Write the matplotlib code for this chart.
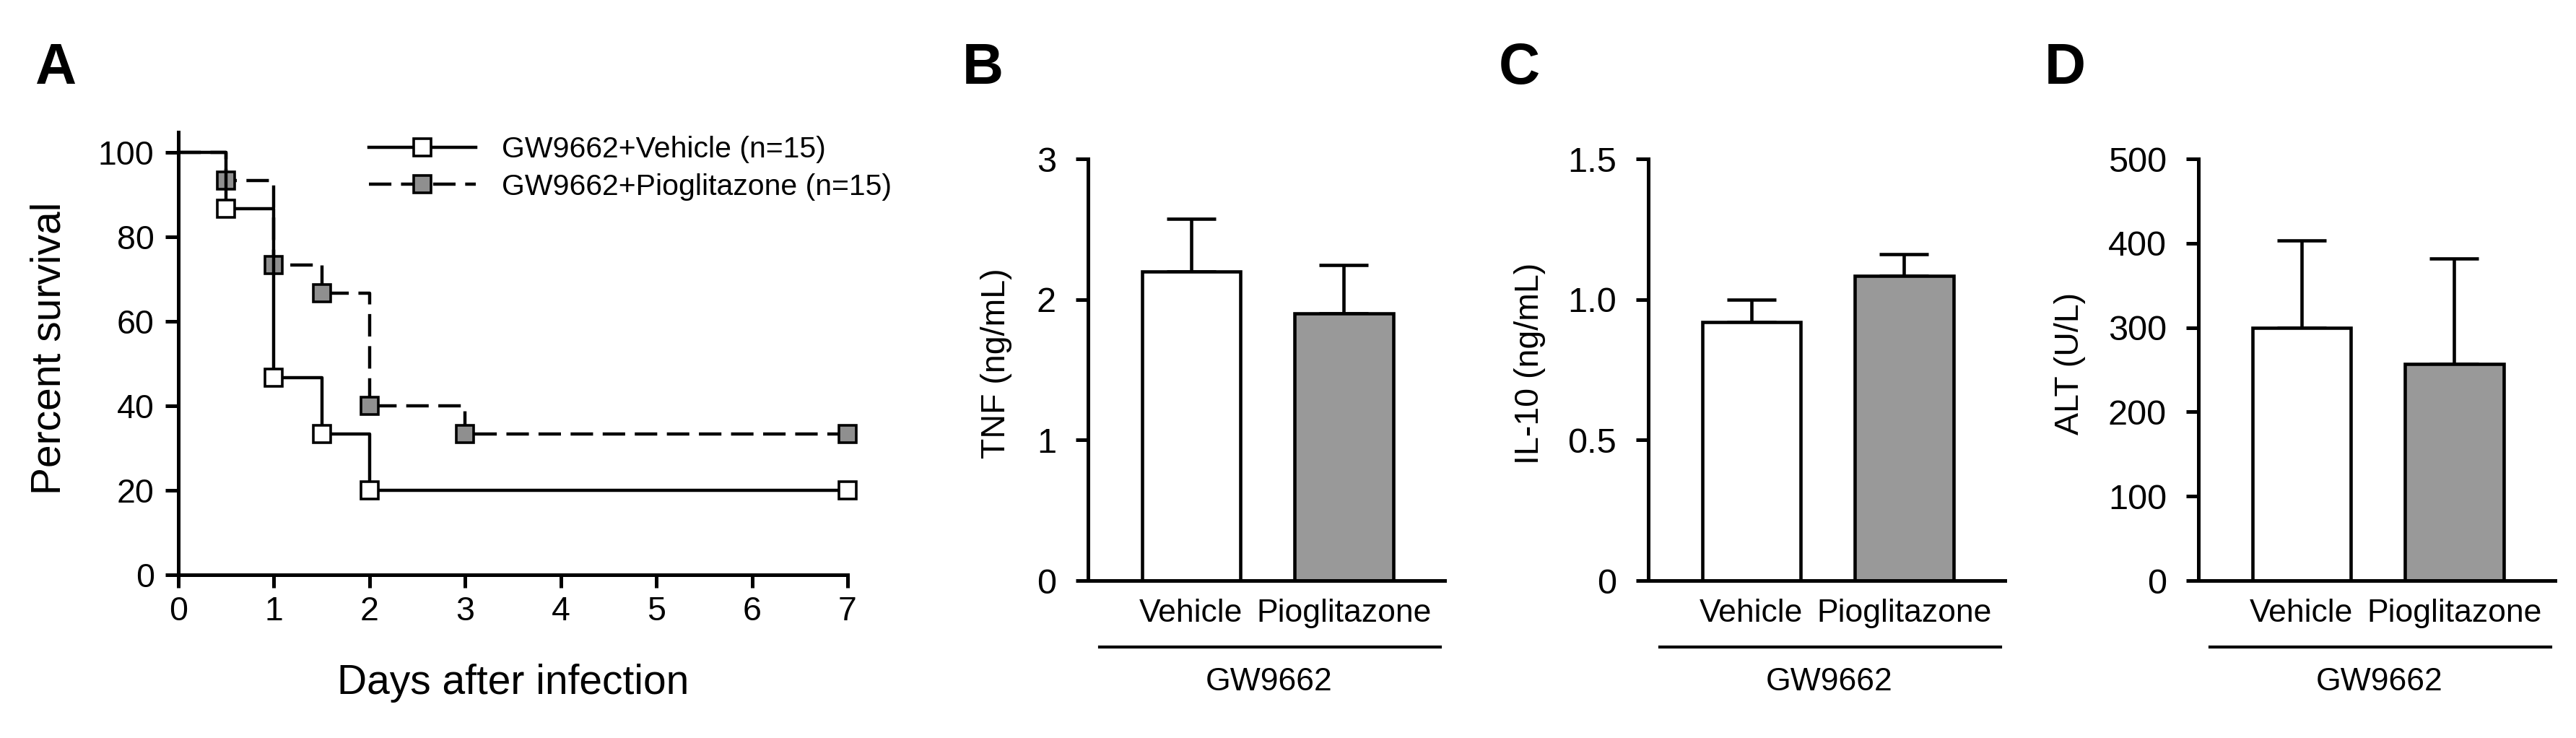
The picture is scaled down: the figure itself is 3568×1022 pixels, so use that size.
import matplotlib
matplotlib.use("Agg")
import matplotlib.pyplot as plt
import matplotlib.transforms as mtransforms

plt.rcParams['font.family'] = ['Liberation Sans', 'DejaVu Sans']

# Panel A: Kaplan-Meier survival
days_vehicle = [0, 0.5, 1, 1.5, 2, 7]
surv_vehicle = [100, 86.7, 46.7, 33.3, 20, 20]
days_pio = [0, 0.5, 1, 1.5, 2, 3, 7]
surv_pio = [100, 93.3, 73.3, 66.7, 40, 33.3, 33.3]
label_vehicle = "GW9662+Vehicle (n=15)"
label_pio = "GW9662+Pioglitazone (n=15)"

# Panels B-D: bar charts (mean + SEM)
groups = ["Vehicle", "Pioglitazone"]
tnf = [2.20, 1.90]
tnf_err = [0.375, 0.345]
il10 = [0.92, 1.085]
il10_err = [0.08, 0.077]
alt = [300, 257]
alt_err = [103, 125]

W, H = 3568, 1022
fig = plt.figure(figsize=(W / 100, H / 100), dpi=100)


def px_axes(left, right, top, bottom):
    return fig.add_axes([left / W, 1 - bottom / H, (right - left) / W, (bottom - top) / H])


LW = 3.6
GRAY_BAR = "#999999"
GRAY_MK = "#8f8f8f"

# ---------- Panel A ----------
ax = px_axes(247, 1174, 183, 796)
ax.plot(days_vehicle, surv_vehicle, drawstyle="steps-post", color="black", lw=3.2,
        marker="s", markersize=17.5, markerfacecolor="white", markeredgecolor="black",
        markeredgewidth=2.6, markevery=list(range(1, len(days_vehicle))),
        clip_on=False, zorder=4, label=label_vehicle)
ax.plot(days_pio, surv_pio, drawstyle="steps-post", color="black", lw=3.2,
        linestyle=(0, (7, 3)),
        marker="s", markersize=17.5, markerfacecolor=GRAY_MK, markeredgecolor="black",
        markeredgewidth=2.6, markevery=list(range(1, len(days_pio))),
        clip_on=False, zorder=3, label=label_pio)
ax.set_xlim(0, 7)
ax.set_ylim(0, 104.8)
ax.set_xticks(range(0, 8))
ax.set_yticks([0, 20, 40, 60, 80, 100])
for s in ["top", "right"]:
    ax.spines[s].set_visible(False)
for s in ["left", "bottom"]:
    ax.spines[s].set_linewidth(LW)
ax.tick_params(axis="both", direction="out", length=13, width=LW, labelsize=33.5)
ax.tick_params(axis="x", pad=8)
ax.tick_params(axis="y", pad=11)
ax.set_ylabel("Percent survival", fontsize=41)
ax.yaxis.set_label_coords(-0.163, 0.512)
ax.set_xlabel("Days after infection", fontsize=41, va="top")
ax.xaxis.set_label_coords(0.5, -0.2)
leg = ax.legend(loc="upper left", bbox_to_anchor=(511 / W, 1 - 188 / H),
                bbox_transform=fig.transFigure, frameon=False, fontsize=29.5,
                handlelength=3.6, handletextpad=0.88, labelspacing=0.33,
                borderpad=0, borderaxespad=0, numpoints=1)

# ---------- Panels B-D ----------
panels = [
    (1507, tnf, tnf_err, [0, 1, 2, 3], ["0", "1", "2", "3"], 3, "TNF (ng/mL)", -0.2126),
    (2283, il10, il10_err, [0, 0.5, 1.0, 1.5], ["0", "0.5", "1.0", "1.5"], 1.5,
     "IL-10 (ng/mL)", -0.287),
    (3045, alt, alt_err, [0, 100, 200, 300, 400, 500],
     ["0", "100", "200", "300", "400", "500"], 500, "ALT (U/L)", -0.316),
]
for left, vals, errs, yt, ytl, ymax, ylab, lab_x in panels:
    ax = px_axes(left, left + 494, 220, 804)
    x = list(range(len(groups)))
    ax.errorbar(x, vals, yerr=[[0] * len(errs), errs], fmt="none", ecolor="black",
                elinewidth=3.3, capsize=24.5, capthick=3.3, zorder=1)
    ax.bar(x, vals, width=0.645, color=["white", GRAY_BAR], edgecolor="black",
           linewidth=3.3, zorder=2)
    ax.set_xlim(-0.675, 1.66)
    ax.set_ylim(0, ymax)
    ax.set_yticks(yt)
    ax.set_yticklabels(ytl)
    ax.set_xticks(x)
    ax.set_xticklabels(groups)
    for s in ["top", "right"]:
        ax.spines[s].set_visible(False)
    for s in ["left", "bottom"]:
        ax.spines[s].set_linewidth(LW)
    ax.tick_params(axis="y", direction="out", length=12.2, width=LW, labelsize=35, pad=19.5)
    ax.tick_params(axis="x", length=0, labelsize=32, pad=18)
    ax.set_ylabel(ylab, fontsize=33.5)
    ax.yaxis.set_label_coords(lab_x, 0.515)
    trans = mtransforms.blended_transform_factory(ax.transData, ax.transAxes)
    ax.plot([-0.6, 1.63], [-0.158, -0.158], color="black", lw=3.0,
            transform=trans, clip_on=False)
    ax.text(0.51, -0.241, "GW9662", transform=trans, ha="center", va="center",
            fontsize=32)

# panel letters
for lx, letter in [(48, "A"), (1333, "B"), (2076, "C"), (2832, "D")]:
    fig.text(lx / W, 1 - 116 / H, letter, fontsize=57, fontweight="bold",
             ha="left", va="baseline")

fig.savefig("out.png", dpi=100)
